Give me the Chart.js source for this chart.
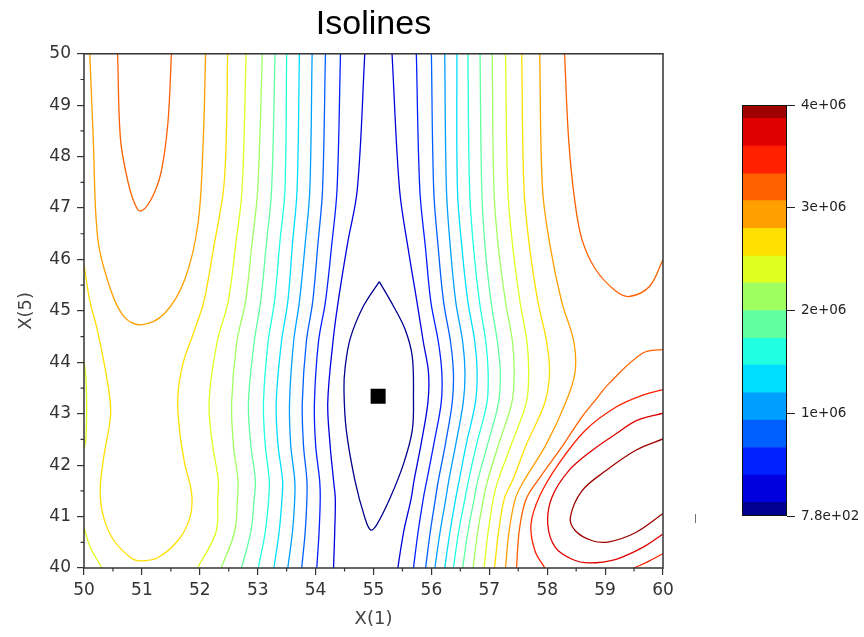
<!DOCTYPE html>
<html>
<head>
<meta charset="utf-8">
<title>Isolines</title>
<script src="https://cdn.jsdelivr.net/npm/chart.js@4.4.1/dist/chart.umd.min.js"></script>
<style>
  html, body { margin: 0; padding: 0; background: #fff; }
  #wrap { position: relative; width: 864px; height: 637px; }
  #mainChart { position: absolute; left: 0; top: 0; }
  #barChart { position: absolute; left: 700px; top: 0; }
  #stray { position: absolute; left: 694px; top: 513px; font: 9px "DejaVu Sans"; color: #444; }
</style>
</head>
<body>
<div id="wrap">
  <canvas id="mainChart" width="864" height="637"></canvas>
  <canvas id="barChart" width="164" height="637"></canvas>
  <span id="stray">|</span>
</div>
<script>
// axis ticks
const xTicks = [50, 51, 52, 53, 54, 55, 56, 57, 58, 59, 60];
const yTicks = [40, 41, 42, 43, 44, 45, 46, 47, 48, 49, 50];

// one colour per level, lowest first (same colours as the colour bar)
const levelColors = ['#00008F', '#0000DF', '#0020FF', '#0060FF', '#009FFF', '#00DFFF', '#20FFDF', '#60FF9F',
                     '#9FFF60', '#DFFF20', '#FFDF00', '#FF9F00', '#FF6000', '#FF2000', '#DF0000', '#9F0000'];

// colour bar
const colorbarEdges = [780, 1.33e5, 4.0e5, 6.67e5, 9.33e5, 1.2e6, 1.47e6, 1.73e6, 2.0e6,
                       2.27e6, 2.53e6, 2.8e6, 3.07e6, 3.33e6, 3.6e6, 3.87e6, 4e6];
const colorbarTicks = [780, 1e6, 2e6, 3e6, 4e6];
const colorbarLabels = ['7.8e+02', '1e+06', '2e+06', '3e+06', '4e+06'];

// optimum marker
const optimum = [55.08, 43.34];

// near-vertical isolines, x read at fixed X(5) rows
const leftRowsY = [50, 47.36, 46.3, 45.18, 44.4, 43.22, 42.4, 41.7, 41.35, 40.7, 40];
const c2Left  = [54.85, 54.72, 54.55, 54.39, 54.30, 54.21, 54.25, 54.31, 54.34, 54.33, 54.31];
const c3Left  = [54.43, 54.37, 54.28, 54.17, 54.05, 53.98, 54.00, 54.07, 54.08, 54.06, 54.02];
const c4Left  = [54.17, 54.12, 54.04, 53.95, 53.84, 53.77, 53.79, 53.85, 53.85, 53.82, 53.76];
const c5Left  = [53.94, 53.90, 53.82, 53.72, 53.62, 53.55, 53.57, 53.64, 53.64, 53.60, 53.52];
const c6Left  = [53.72, 53.68, 53.60, 53.52, 53.41, 53.32, 53.35, 53.43, 53.42, 53.37, 53.28];
const c7Left  = [53.50, 53.47, 53.38, 53.29, 53.18, 53.10, 53.13, 53.20, 53.19, 53.13, 53.01];
const c8Left  = [53.30, 53.24, 53.15, 53.05, 52.94, 52.84, 52.88, 52.96, 52.94, 52.88, 52.72];
const c9Left  = [53.08, 53.00, 52.90, 52.79, 52.64, 52.55, 52.58, 52.66, 52.65, 52.60, 52.37];
const c10Left = [52.80, 52.73, 52.62, 52.49, 52.30, 52.16, 52.22, 52.32, 52.31, 52.28, 51.96];

const rightRowsY = [50, 47.36, 46.2, 45.18, 44.4, 43.8, 43.22, 42.4, 41.7, 41.35, 40.7, 40];
const c2Right  = [55.32, 55.45, 55.60, 55.75, 55.86, 55.95, 55.94, 55.82, 55.70, 55.65, 55.52, 55.42];
const c3Right  = [55.74, 55.80, 55.90, 55.99, 56.12, 56.18, 56.17, 56.04, 55.92, 55.86, 55.77, 55.69];
const c4Right  = [56.00, 56.04, 56.12, 56.21, 56.33, 56.38, 56.36, 56.24, 56.12, 56.07, 55.98, 55.90];
const c5Right  = [56.23, 56.26, 56.33, 56.42, 56.54, 56.58, 56.55, 56.42, 56.30, 56.25, 56.15, 56.06];
const c6Right  = [56.44, 56.45, 56.53, 56.63, 56.75, 56.79, 56.76, 56.60, 56.48, 56.42, 56.32, 56.23];
const c7Right  = [56.63, 56.66, 56.73, 56.83, 56.94, 56.98, 56.96, 56.78, 56.64, 56.58, 56.47, 56.38];
const c8Right  = [56.84, 56.87, 56.93, 57.03, 57.14, 57.19, 57.16, 56.97, 56.80, 56.74, 56.63, 56.54];
const c9Right  = [57.05, 57.08, 57.16, 57.28, 57.40, 57.43, 57.39, 57.16, 56.97, 56.90, 56.80, 56.72];
const c10Right = [57.28, 57.32, 57.41, 57.53, 57.65, 57.68, 57.64, 57.38, 57.15, 57.07, 56.98, 56.91];
const c11Right = [57.56, 57.60, 57.70, 57.84, 57.99, 58.04, 57.96, 57.64, 57.40, 57.26, 57.16, 57.09];
const c12Right = [57.87, 57.92, 58.06, 58.25, 58.46, 58.48, 58.32, 57.98, 57.60, 57.45, 57.34, 57.28];

// curved isolines as [x, y] points
const c1Ellipse = [[55.10, 45.57], [54.82, 45.08], [54.60, 44.47], [54.51, 43.90], [54.49, 43.46], [54.53, 42.68],
  [54.68, 41.70], [54.85, 40.98], [54.95, 40.74], [55.06, 40.85], [55.29, 41.37], [55.52, 42.03], [55.67, 42.68],
  [55.69, 43.33], [55.67, 44.11], [55.55, 44.63], [55.35, 45.08], [55.10, 45.57]];
const c10Bump = [[50, 44.04], [50.035, 43.65], [50.045, 43.0], [50.03, 42.48], [50, 42.32]];
const c10Corner = [[50, 40.79], [50.11, 40.40], [50.31, 40]];
const c11Left = [[50, 45.9], [50.10, 45.2], [50.23, 44.63], [50.40, 43.65], [50.46, 43.0], [50.34, 42.15],
  [50.28, 41.5], [50.34, 40.98], [50.52, 40.53], [50.81, 40.20], [50.98, 40.14], [51.27, 40.20], [51.62, 40.53],
  [51.83, 40.98], [51.86, 41.44], [51.74, 42.03], [51.65, 42.68], [51.62, 43.33], [51.71, 43.98], [51.91, 44.63],
  [52.07, 45.18], [52.25, 46.3], [52.41, 47.36], [52.46, 48.5], [52.48, 50]];
const c12Left = [[50.10, 50], [50.16, 48.34], [50.24, 46.39], [50.46, 45.41], [50.69, 44.89], [50.98, 44.73],
  [51.39, 44.95], [51.74, 45.61], [51.97, 46.71], [52.06, 48.34], [52.10, 50]];
const c13Left = [[50.58, 50], [50.63, 48.34], [50.75, 47.56], [50.87, 47.10], [50.98, 46.94], [51.16, 47.17],
  [51.33, 47.69], [51.45, 48.67], [51.51, 50]];
const c13TopRight = [[58.30, 50], [58.37, 48.34], [58.47, 47.2], [58.60, 46.39], [58.84, 45.80], [59.19, 45.38],
  [59.42, 45.28], [59.77, 45.48], [60, 46.0]];
const c13Lower = [[60, 44.25], [59.65, 44.18], [59.07, 43.59], [58.80, 43.22], [58.60, 42.94], [58.25, 42.35],
  [57.90, 41.80], [57.64, 41.35], [57.52, 40.75], [57.47, 40]];
const c14Outer = [[60, 43.47], [59.65, 43.36], [59.19, 43.13], [58.66, 42.68], [58.20, 42.03], [57.87, 41.40],
  [57.72, 40.85], [57.79, 40.33], [57.96, 40]];
const c14Corner = [[59.50, 40], [59.75, 40.13], [60, 40.28]];
const c15Loop = [[60, 43.01], [59.55, 42.87], [59.19, 42.61], [58.78, 42.29], [58.37, 41.89], [58.08, 41.37],
  [58.01, 40.85], [58.14, 40.40], [58.43, 40.17], [58.72, 40.10], [59.19, 40.17], [59.65, 40.40], [60, 40.66]];
const c16Loop = [[60, 42.51], [59.53, 42.29], [59.01, 41.89], [58.60, 41.50], [58.40, 40.98], [58.49, 40.72],
  [58.78, 40.53], [59.07, 40.51], [59.53, 40.69], [60, 41.06]];

const rows = (xs, ys) => xs.map((x, i) => ({ x: x, y: ys[i] }));
const pairs = arr => arr.map(p => ({ x: p[0], y: p[1] }));

const isolines = [
  [1, pairs(c1Ellipse)],
  [2, rows(c2Left, leftRowsY)], [2, rows(c2Right, rightRowsY)],
  [3, rows(c3Left, leftRowsY)], [3, rows(c3Right, rightRowsY)],
  [4, rows(c4Left, leftRowsY)], [4, rows(c4Right, rightRowsY)],
  [5, rows(c5Left, leftRowsY)], [5, rows(c5Right, rightRowsY)],
  [6, rows(c6Left, leftRowsY)], [6, rows(c6Right, rightRowsY)],
  [7, rows(c7Left, leftRowsY)], [7, rows(c7Right, rightRowsY)],
  [8, rows(c8Left, leftRowsY)], [8, rows(c8Right, rightRowsY)],
  [9, rows(c9Left, leftRowsY)], [9, rows(c9Right, rightRowsY)],
  [10, rows(c10Left, leftRowsY)], [10, rows(c10Right, rightRowsY)], [10, pairs(c10Bump)], [10, pairs(c10Corner)],
  [11, pairs(c11Left)], [11, rows(c11Right, rightRowsY)],
  [12, pairs(c12Left)], [12, rows(c12Right, rightRowsY)],
  [13, pairs(c13Left)], [13, pairs(c13TopRight)], [13, pairs(c13Lower)],
  [14, pairs(c14Outer)], [14, pairs(c14Corner)],
  [15, pairs(c15Loop)],
  [16, pairs(c16Loop)]
];

const datasets = isolines.map(([level, pts]) => ({
  data: pts,
  showLine: true,
  borderColor: levelColors[level - 1],
  borderWidth: 1.3,
  pointRadius: 0,
  tension: 0.35,
  fill: false
}));
datasets.push({
  data: [{ x: optimum[0], y: optimum[1] }],
  showLine: false,
  pointStyle: 'rect',
  pointRadius: 10.6,
  backgroundColor: '#000',
  borderColor: '#000',
  borderWidth: 0
});

const tickFont = { family: 'DejaVu Sans', size: 17 };
const axisTitleFont = { family: 'DejaVu Sans', size: 18 };

// box around the plot and the half-unit ticks
const boxAndMinorTicks = {
  id: 'boxAndMinorTicks',
  afterDraw(chart) {
    const { ctx, chartArea: a, scales } = chart;
    ctx.save();
    ctx.strokeStyle = '#333';
    ctx.lineWidth = 1.5;
    ctx.strokeRect(a.left, a.top, a.right - a.left, a.bottom - a.top);
    ctx.lineWidth = 1.2;
    ctx.beginPath();
    for (let v = 50.5; v < 60; v += 1) {
      const px = scales.x.getPixelForValue(v);
      ctx.moveTo(px, a.bottom);
      ctx.lineTo(px, a.bottom + 3.5);
    }
    for (let v = 40.5; v < 50; v += 1) {
      const py = scales.y.getPixelForValue(v);
      ctx.moveTo(a.left, py);
      ctx.lineTo(a.left - 3.5, py);
    }
    ctx.stroke();
    ctx.restore();
  }
};

new Chart(document.getElementById('mainChart'), {
  type: 'scatter',
  data: { datasets: datasets },
  options: {
    responsive: false,
    animation: false,
    layout: { padding: { left: 0, right: 201, top: 0, bottom: 0 } },
    plugins: {
      legend: { display: false },
      tooltip: { enabled: false },
      title: {
        display: true,
        text: 'Isolines',
        fullSize: false,
        color: '#000',
        font: { family: "'Liberation Sans', Arial, sans-serif", size: 34, weight: 'normal' },
        padding: { top: 4, bottom: 9 }
      }
    },
    scales: {
      x: {
        type: 'linear',
        min: 50,
        max: 60,
        afterBuildTicks: s => { s.ticks = xTicks.map(v => ({ value: v })); },
        afterFit: s => { s.height = 69; },
        ticks: { font: tickFont, color: '#333', padding: 5, maxRotation: 0, autoSkip: false },
        grid: { drawOnChartArea: false, tickLength: 7, color: '#333', lineWidth: 1.2 },
        border: { display: false },
        title: { display: true, text: 'X(1)', font: axisTitleFont, color: '#444', padding: { top: 0, bottom: 7 } }
      },
      y: {
        type: 'linear',
        min: 40,
        max: 50,
        afterBuildTicks: s => { s.ticks = yTicks.map(v => ({ value: v })); },
        afterFit: s => { s.width = 84; },
        ticks: { font: tickFont, color: '#333', padding: 6, autoSkip: false },
        grid: { drawOnChartArea: false, tickLength: 7, color: '#333', lineWidth: 1.2 },
        border: { display: false },
        title: { display: true, text: 'X(5)', font: axisTitleFont, color: '#444', padding: { top: 16, bottom: 0 } }
      }
    }
  },
  plugins: [boxAndMinorTicks]
});

// colour bar
const barFrame = {
  id: 'barFrame',
  afterDraw(chart) {
    const { ctx, chartArea: a } = chart;
    ctx.save();
    ctx.strokeStyle = '#111';
    ctx.lineWidth = 1;
    ctx.strokeRect(a.left + 0.5, a.top + 0.5, a.right - a.left - 1, a.bottom - a.top - 1);
    ctx.restore();
  }
};

new Chart(document.getElementById('barChart'), {
  type: 'bar',
  data: {
    labels: [''],
    datasets: levelColors.map((c, i) => ({
      data: [[colorbarEdges[i], colorbarEdges[i + 1]]],
      backgroundColor: c,
      borderWidth: 0,
      grouped: false,
      barPercentage: 1,
      categoryPercentage: 1
    }))
  },
  options: {
    responsive: false,
    animation: false,
    layout: { padding: { left: 42, right: 0, top: 105, bottom: 121 } },
    plugins: { legend: { display: false }, tooltip: { enabled: false } },
    scales: {
      x: { display: false },
      y: {
        position: 'right',
        min: 780,
        max: 4e6,
        afterBuildTicks: s => { s.ticks = colorbarTicks.map(v => ({ value: v })); },
        afterFit: s => { s.width = 77; },
        ticks: {
          font: { family: 'DejaVu Sans', size: 13.5 },
          color: '#222',
          padding: 6,
          autoSkip: false,
          callback: (v, i) => colorbarLabels[i]
        },
        grid: { drawOnChartArea: false, tickLength: 8, color: '#222' },
        border: { display: false }
      }
    }
  },
  plugins: [barFrame]
});
</script>
</body>
</html>
